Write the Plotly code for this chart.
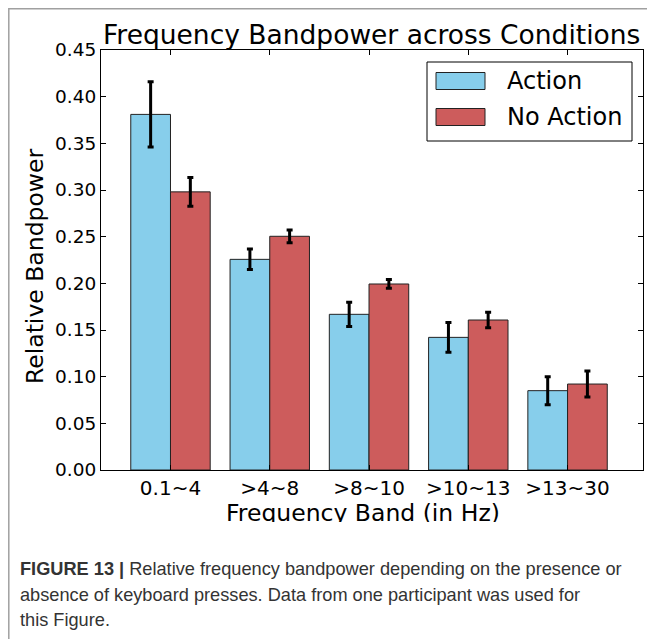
import plotly.graph_objects as go

# ---- data ----
bands = ["0.1~4", ">4~8", ">8~10", ">10~13", ">13~30"]
series_names = ["Action", "No Action"]
action_vals = [0.381, 0.2257, 0.1668, 0.1421, 0.085]
action_err = [0.035, 0.011, 0.013, 0.016, 0.015]
noaction_vals = [0.298, 0.2504, 0.1993, 0.1607, 0.0921]
noaction_err = [0.0155, 0.0068, 0.0047, 0.0083, 0.014]
yticks = [0.00, 0.05, 0.10, 0.15, 0.20, 0.25, 0.30, 0.35, 0.40, 0.45]

OFF = 8  # page body margin
W, H = 655 - OFF, 639 - OFF
# plot area in screen pixels
L, R, T, B = 101, 643, 50, 470


def px(x):
    return (x - L) / (R - L)


def py(y):
    return (B - y) / (B - T)


colors = ["#87CEEB", "#CD5C5C"]
FONT = "DejaVu Sans"

fig = go.Figure()
for name, vals, errs, col in [
    (series_names[0], action_vals, action_err, colors[0]),
    (series_names[1], noaction_vals, noaction_err, colors[1]),
]:
    fig.add_trace(go.Bar(
        x=bands, y=vals, name=name,
        marker=dict(color=col, line=dict(color="#222222", width=1)),
        error_y=dict(type="data", array=errs, color="black", thickness=3, width=3),
        showlegend=False,
    ))

fig.update_layout(
    width=W, height=H,
    margin=dict(l=L - OFF, r=W - (R - OFF), t=T - OFF, b=H - (B - OFF), pad=0),
    paper_bgcolor="white", plot_bgcolor="white",
    barmode="group", bargap=0.2, bargroupgap=0,
    showlegend=False,
    font=dict(family=FONT, color="black"),
)
fig.update_xaxes(
    range=[-0.70, 4.76], showline=True, linecolor="black", linewidth=1,
    mirror="ticks", ticks="inside", ticklen=5, tickcolor="black",
    tickfont=dict(size=20, family=FONT, color="black"), showgrid=False,
    zeroline=False,
)
fig.update_yaxes(
    range=[0, 0.45], tickvals=yticks, tickformat=".2f",
    showline=True, linecolor="black", linewidth=1,
    mirror="ticks", ticks="inside", ticklen=5, tickcolor="black",
    tickfont=dict(size=18.5, family=FONT, color="black"), showgrid=False,
    zeroline=False,
)

ann = []
# title
ann.append(dict(text="Frequency Bandpower across Conditions", xref="paper", yref="paper",
                x=px(371), y=py(35), xanchor="center", yanchor="middle", showarrow=False,
                font=dict(size=26.5, family=FONT, color="black")))
# y-axis title
ann.append(dict(text="Relative Bandpower", xref="paper", yref="paper",
                x=px(35), y=py(266), xanchor="center", yanchor="middle", textangle=-90,
                showarrow=False, font=dict(size=23.5, family=FONT, color="black")))
# x-axis title
ann.append(dict(text="Frequency Band (in Hz)", xref="paper", yref="paper",
                x=px(363), y=py(513), xanchor="center", yanchor="middle",
                showarrow=False, font=dict(size=23.5, family=FONT, color="black")))
# white cover clipping the bottom of the x title (as in the reference image)
ann.append(dict(text=" ", xref="paper", yref="paper", x=px(363), y=py(522),
                xanchor="center", yanchor="top", showarrow=False, bgcolor="white",
                width=340, height=16, borderpad=0, borderwidth=0))

# legend (manual)
leg_items = [(series_names[0], colors[0], 81), (series_names[1], colors[1], 117)]
shapes = [
    dict(type="rect", xref="paper", yref="paper", x0=px(427), x1=px(632), y0=py(62), y1=py(141),
         line=dict(color="black", width=1), fillcolor="white", layer="above"),
]
for name, col, yc in leg_items:
    shapes.append(dict(type="rect", xref="paper", yref="paper", x0=px(436), x1=px(485),
                       y0=py(yc - 8.5), y1=py(yc + 8.5), line=dict(color="#222222", width=1),
                       fillcolor=col, layer="above"))
    ann.append(dict(text=name, xref="paper", yref="paper", x=px(505), y=py(yc),
                    xanchor="left", yanchor="middle", showarrow=False,
                    font=dict(size=24, family=FONT, color="black")))

# outer figure frame
shapes.append(dict(type="rect", xref="paper", yref="paper", x0=px(OFF + 0.8), x1=px(700),
                   y0=py(OFF + 0.8), y1=py(700), line=dict(color="#a0a0a0", width=1.5),
                   fillcolor="rgba(0,0,0,0)", layer="below"))

# caption
CAP_FONT = "Liberation Sans"
cap_lines = [
    "<b>FIGURE 13 |</b> Relative frequency bandpower depending on the presence or",
    "absence of keyboard presses. Data from one participant was used for",
    "this Figure.",
]
for line, yc in zip(cap_lines, [569, 595, 620]):
    ann.append(dict(text=line, xref="paper", yref="paper", x=px(18), y=py(yc),
                    xanchor="left", yanchor="middle", showarrow=False,
                    font=dict(size=18.2, family=CAP_FONT, color="#333333")))

fig.update_layout(annotations=ann, shapes=shapes)
fig.write_html("out.html")
